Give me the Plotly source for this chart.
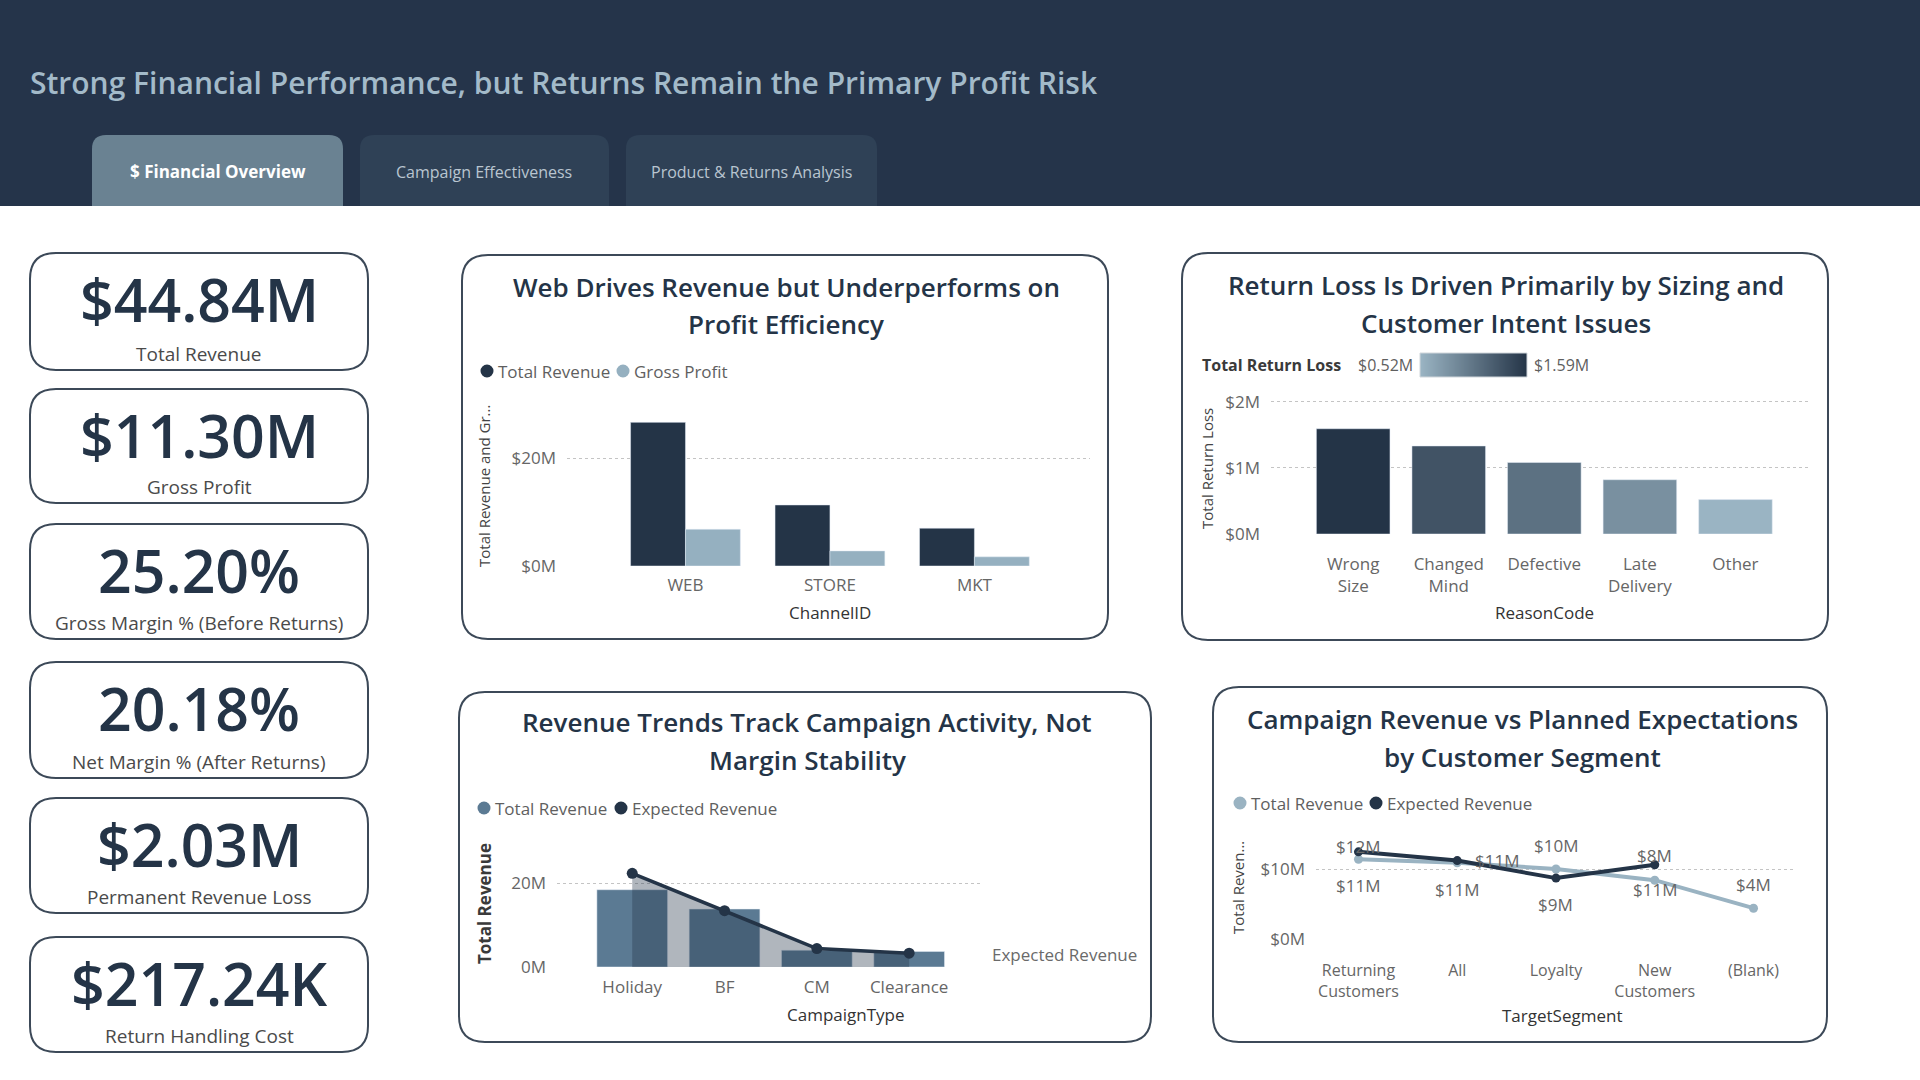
import plotly.graph_objects as go

W, H = 1920, 1080
FONT = "Open Sans"
NAVY = "#243447"
GRAY_TXT = "#5f5f5f"

# ---------------- data ----------------
header_title = "Strong Financial Performance, but Returns Remain the Primary Profit Risk"
tabs = ["$ Financial Overview", "Campaign Effectiveness", "Product & Returns Analysis"]

kpi_values = ["$44.84M", "$11.30M", "25.20%", "20.18%", "$2.03M", "$217.24K"]
kpi_labels = ["Total Revenue", "Gross Profit", "Gross Margin % (Before Returns)",
              "Net Margin % (After Returns)", "Permanent Revenue Loss", "Return Handling Cost"]

channels = ["WEB", "STORE", "MKT"]
channel_revenue = [26.6e6, 11.3e6, 7.0e6]
channel_profit = [6.8e6, 2.8e6, 1.7e6]
channel_yticks = [0, 20e6]
channel_yticklabels = ["$0M", "$20M"]

reasons = ["Wrong<br>Size", "Changed<br>Mind", "Defective", "Late<br>Delivery", "Other"]
return_loss = [1.59e6, 1.33e6, 1.08e6, 0.82e6, 0.52e6]
loss_yticks = [0, 1e6, 2e6]
loss_yticklabels = ["$0M", "$1M", "$2M"]
loss_legend_range = [0.52e6, 1.59e6]
loss_legend_labels = ["$0.52M", "$1.59M"]

campaigns = ["Holiday", "BF", "CM", "Clearance"]
campaign_revenue = [18.4e6, 13.8e6, 4.0e6, 3.7e6]
campaign_expected = [22.3e6, 13.4e6, 4.4e6, 3.3e6]
campaign_yticks = [0, 20e6]
campaign_yticklabels = ["0M", "20M"]

segments = ["Returning<br>Customers", "All", "Loyalty", "New<br>Customers", "(Blank)"]
segment_revenue = [11.4e6, 10.9e6, 10.0e6, 8.4e6, 4.4e6]
segment_expected = [12.45e6, 11.2e6, 8.7e6, 10.6e6, None]
segment_yticks = [0, 10e6]
segment_yticklabels = ["$0M", "$10M"]

# ---------------- helpers ----------------
def px(x):
    return x / W

def py(y):
    return 1 - y / H

def P(x, y):
    return f"{px(x):.6f},{py(y):.6f}"

def rrect_path(x0, y0, x1, y1, r, square_bottom=False):
    if square_bottom:
        return (f"M{P(x0, y1)} L{P(x0, y0 + r)} Q{P(x0, y0)} {P(x0 + r, y0)} "
                f"L{P(x1 - r, y0)} Q{P(x1, y0)} {P(x1, y0 + r)} L{P(x1, y1)} Z")
    return (f"M{P(x0 + r, y0)} L{P(x1 - r, y0)} Q{P(x1, y0)} {P(x1, y0 + r)} "
            f"L{P(x1, y1 - r)} Q{P(x1, y1)} {P(x1 - r, y1)} L{P(x0 + r, y1)} "
            f"Q{P(x0, y1)} {P(x0, y1 - r)} L{P(x0, y0 + r)} Q{P(x0, y0)} {P(x0 + r, y0)} Z")

shapes = []
annotations = []

def add_rrect(x0, y0, x1, y1, r, fill, line=None, lw=0, square_bottom=False):
    shapes.append(dict(type="path", xref="paper", yref="paper",
                       path=rrect_path(x0, y0, x1, y1, r, square_bottom),
                       fillcolor=fill, line=dict(color=line or fill, width=lw), layer="below"))

def txt(x, y, s, size, color, xanchor="center", weight=400, angle=0, yanchor="middle"):
    annotations.append(dict(xref="paper", yref="paper", x=px(x), y=py(y), text=s,
                            showarrow=False, xanchor=xanchor, yanchor=yanchor,
                            textangle=angle,
                            font=dict(family=FONT, size=size, color=color, weight=weight)))

def legend_item(x, y, color, label):
    r = 6.5
    shapes.append(dict(type="circle", xref="paper", yref="paper",
                       x0=px(x - r), x1=px(x + r), y0=py(y + r), y1=py(y - r),
                       fillcolor=color, line=dict(width=0)))
    txt(x + 9, y, label, 17, GRAY_TXT, xanchor="left")

# ---------------- header / body ----------------
HEADER = "#25344a"
shapes.append(dict(type="rect", xref="paper", yref="paper", x0=0, x1=1, y0=0, y1=py(206),
                   fillcolor="#ffffff", line=dict(width=0), layer="below"))
txt(28, 83, header_title, 30, "#a3bac9", xanchor="left", weight=600)
tab_boxes = [(92, 343), (360, 609), (626, 877)]
for i, (t, (a, b)) in enumerate(zip(tabs, tab_boxes)):
    add_rrect(a, 135, b, 206, 14, "#6a8292" if i == 0 else "#2f4156", square_bottom=True)
    txt((a + b) / 2, 172, t, 17 if i == 0 else 16,
        "#ffffff" if i == 0 else "#b9c5d0", weight=700 if i == 0 else 400)

# ---------------- KPI cards ----------------
card_boxes = [(253, 370), (389, 503), (524, 639), (662, 778), (798, 913), (937, 1052)]
for v, lab, (t, b) in zip(kpi_values, kpi_labels, card_boxes):
    add_rrect(30, t, 368, b, 26, "#ffffff", "#3c4958", 2)
    txt(199, t + 46, v, 59, NAVY, weight=600)
    txt(199, b - 16, lab, 19, "#4a4a4a")

# ---------------- panels ----------------
panels = [(462, 255, 1108, 639), (1182, 253, 1828, 640), (459, 692, 1151, 1042), (1213, 687, 1827, 1042)]
for (x0, y0, x1, y1) in panels:
    add_rrect(x0, y0, x1, y1, 26, "#ffffff", "#3c4958", 2)

titles = [
    (786, 287, 324, "Web Drives Revenue but Underperforms on", "Profit Efficiency"),
    (1506, 285, 323, "Return Loss Is Driven Primarily by Sizing and", "Customer Intent Issues"),
    (807, 722, 760, "Revenue Trends Track Campaign Activity, Not", "Margin Stability"),
    (1522, 719, 757, "Campaign Revenue vs Planned Expectations", "by Customer Segment"),
]
for cx, ya, yb, l1, l2 in titles:
    txt(cx, ya, l1, 26, NAVY, weight=600)
    txt(cx, yb, l2, 26, NAVY, weight=600)

fig = go.Figure()

# Panel A: grouped bars
fig.add_trace(go.Bar(x=channels, y=channel_revenue, marker_color=NAVY, width=0.38, offset=-0.38,
                     xaxis="x", yaxis="y", showlegend=False))
fig.add_trace(go.Bar(x=channels, y=channel_profit, marker_color="#95b0c0", width=0.38, offset=0,
                     xaxis="x", yaxis="y", showlegend=False))
legend_item(487, 371, NAVY, "Total Revenue")
legend_item(623, 371, "#95b0c0", "Gross Profit")
txt(830, 612, "ChannelID", 17, "#333333")
txt(484, 486, "Total Revenue and Gr...", 15, "#444444", angle=-90)

# Panel B: gradient bars
cscale = [[0, "#9ab4c3"], [1, "#243447"]]
fig.add_trace(go.Bar(x=reasons, y=return_loss,
                     marker=dict(color=return_loss, colorscale=cscale,
                                 cmin=loss_legend_range[0], cmax=loss_legend_range[1]),
                     width=0.77, xaxis="x2", yaxis="y2", showlegend=False))
fig.add_trace(go.Heatmap(z=[loss_legend_range], x=[0, 1], y=[0], colorscale=cscale,
                         zsmooth="best", showscale=False, xaxis="x5", yaxis="y5", hoverinfo="skip"))
shapes.append(dict(type="rect", xref="paper", yref="paper", x0=px(1420), x1=px(1527),
                   y0=py(377), y1=py(353), line=dict(color="#d0d6db", width=1)))
txt(1200, 365, "Total Return Loss", 16, "#3a3a3a", xanchor="left", weight=700)
txt(1356, 365, loss_legend_labels[0], 16, GRAY_TXT, xanchor="left")
txt(1532, 365, loss_legend_labels[1], 16, GRAY_TXT, xanchor="left")
txt(1544, 612, "ReasonCode", 17, "#333333")
txt(1207, 469, "Total Return Loss", 15, "#444444", angle=-90)

# Panel C: bars + area line
fig.add_trace(go.Bar(x=campaigns, y=campaign_revenue, marker_color="#5b7a93", width=0.766,
                     xaxis="x3", yaxis="y3", showlegend=False))
fig.add_trace(go.Scatter(x=campaigns, y=campaign_expected, mode="lines+markers", fill="tozeroy",
                         fillcolor="rgba(37,52,71,0.36)", line=dict(color=NAVY, width=3.5),
                         marker=dict(color=NAVY, size=11), xaxis="x3", yaxis="y3", showlegend=False))
legend_item(484, 808, "#5b7a93", "Total Revenue")
legend_item(621, 808, NAVY, "Expected Revenue")
txt(990, 954, "Expected Revenue", 17, "#6a6a6a", xanchor="left")
txt(846, 1014, "CampaignType", 17, "#333333")
txt(484, 904, "Total Revenue", 17, "#3a3a3a", angle=-90, weight=700)

# Panel D: two lines
fig.add_trace(go.Scatter(x=list(range(len(segments))), y=segment_revenue, mode="lines+markers",
                         line=dict(color="#9ab3c2", width=4), marker=dict(color="#9ab3c2", size=9),
                         xaxis="x4", yaxis="y4", showlegend=False))
fig.add_trace(go.Scatter(x=list(range(len(segments))), y=segment_expected, mode="lines+markers",
                         line=dict(color=NAVY, width=4), marker=dict(color=NAVY, size=9),
                         xaxis="x4", yaxis="y4", showlegend=False))
legend_item(1240, 803, "#9ab3c2", "Total Revenue")
legend_item(1376, 803, NAVY, "Expected Revenue")
txt(1562, 1015, "TargetSegment", 17, "#333333")
txt(1238, 888, "Total Reven...", 15, "#444444", angle=-90)

def money(v):
    return f"${v / 1e6:.0f}M"

rev_shift = [(0, -26), (0, -27), (0, 24), (0, 25), (0, 24)]
exp_shift = [(0, 5), (40, 0), (0, -26), (0, -25), (0, 0)]
for i in range(len(segments)):
    for vals, shifts in ((segment_revenue, rev_shift), (segment_expected, exp_shift)):
        v = vals[i]
        if v is None:
            continue
        annotations.append(dict(xref="x4", yref="y4", x=i, y=v, text=money(v), showarrow=False,
                                xshift=shifts[i][0], yshift=shifts[i][1],
                                font=dict(family=FONT, size=17, color="#666666")))

# ---------------- axes ----------------
xcommon = dict(showgrid=False, zeroline=False, showline=False, ticks="", automargin=False,
               tickfont=dict(family=FONT, size=17, color="#666666"), fixedrange=True)
ycommon = dict(showgrid=True, gridcolor="#c4c4c4", griddash="dot", gridwidth=1, zeroline=False,
               showline=False, ticks="", tickfont=dict(family=FONT, size=17, color="#666666"),
               ticklabelstandoff=10, fixedrange=True, automargin=False)

fig.update_layout(
    width=W, height=H, autosize=False,
    margin=dict(l=0, r=0, t=0, b=0, pad=0),
    paper_bgcolor=HEADER, plot_bgcolor="rgba(0,0,0,0)",
    font=dict(family=FONT),
    barmode="overlay", showlegend=False,
    shapes=shapes, annotations=annotations,
    xaxis=dict(xcommon, domain=[px(567), px(1090)], anchor="y", type="category",
               range=[-0.82, 2.8], ticklabelstandoff=7),
    yaxis=dict(ycommon, domain=[py(566), py(404)], anchor="x", range=[0, 30e6],
               tickvals=channel_yticks, ticktext=channel_yticklabels),
    xaxis2=dict(xcommon, domain=[px(1271), px(1810)], anchor="y2", type="category",
                range=[-0.86, 4.78], ticklabelstandoff=18),
    yaxis2=dict(ycommon, domain=[py(534), py(395)], anchor="x2", range=[0, 2.1e6],
                tickvals=loss_yticks, ticktext=loss_yticklabels),
    xaxis3=dict(xcommon, domain=[px(557), px(983)], anchor="y3", type="category",
                range=[-0.815, 3.8], ticklabelstandoff=8),
    yaxis3=dict(ycommon, domain=[py(967), py(862)], anchor="x3", range=[0, 25e6],
                tickvals=campaign_yticks, ticktext=campaign_yticklabels),
    xaxis4=dict(xcommon, domain=[px(1316), px(1794)], anchor="y4",
                range=[-0.43, 4.41], tickvals=list(range(len(segments))), ticktext=segments,
                tickfont=dict(family=FONT, size=16, color="#666666"), ticklabelstandoff=20),
    yaxis4=dict(ycommon, domain=[py(939), py(834)], anchor="x4", range=[0, 15e6],
                tickvals=segment_yticks, ticktext=segment_yticklabels),
    xaxis5=dict(domain=[px(1420), px(1527)], anchor="y5", range=[0, 1], visible=False,
                fixedrange=True, automargin=False),
    yaxis5=dict(domain=[py(377), py(353)], anchor="x5", range=[-0.5, 0.5], visible=False,
                fixedrange=True, automargin=False),
)

fig.write_html("out.html")
